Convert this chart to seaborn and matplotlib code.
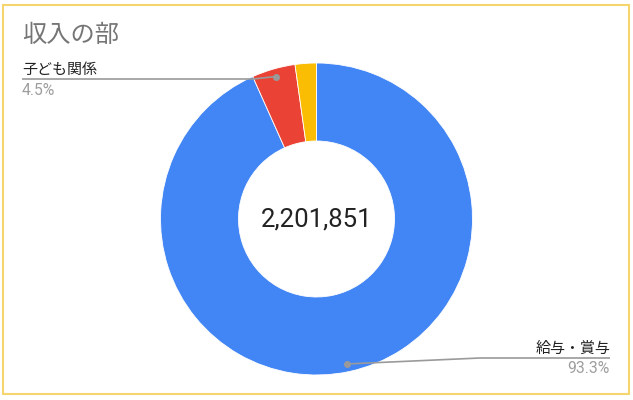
import numpy as np
import matplotlib
matplotlib.use("Agg")
import matplotlib.pyplot as plt
from matplotlib.patches import Rectangle
import seaborn as sns

sns.set_theme(style="white")
plt.rcParams["font.family"] = ["Noto Sans CJK JP", "DejaVu Sans"]

TITLE = "収入の部"
CATEGORIES = ["給与・賞与", "子ども関係", "その他"]
AMOUNTS = [2054327, 99083, 48441]
COLORS = ["#4285F4", "#EA4335", "#FBBC04"]
# which slices get an outside label, and where the label sits
LABELLED = {0: "right", 1: "left"}

W, H = 633, 400
fig = plt.figure(figsize=(W / 100, H / 100), dpi=100)
fig.patch.set_facecolor("white")

# donut centre (316.5, 219), outer radius 156 px
cx, cy, r = 316.5, 219, 156
ax = fig.add_axes([(cx - r) / W, (H - cy - r) / H, 2 * r / W, 2 * r / H])
wedges, _ = ax.pie(AMOUNTS, colors=COLORS, startangle=90, counterclock=False,
                   radius=1, wedgeprops=dict(width=0.5, edgecolor="white", linewidth=0.6))
ax.set_xlim(-1, 1)
ax.set_ylim(-1, 1)
ax.set_aspect("equal")
ax.axis("off")

# overlay axes in pixel coordinates (y downwards)
ov = fig.add_axes([0, 0, 1, 1], facecolor="none")
ov.set_xlim(0, W)
ov.set_ylim(H, 0)
ov.axis("off")

ov.add_patch(Rectangle((2.5, 5), 626.5, 389, fill=False, edgecolor="#F7D56E", linewidth=1.5))
ov.text(22, 35, TITLE, fontsize=17.5, color="#757575", va="center", ha="left")

total = sum(AMOUNTS)
ov.text(cx, cy, f"{total:,}", fontsize=18.5, color="#222222", ha="center", va="center",
        family=["Roboto", "DejaVu Sans"])

to_ov = ax.transData + ov.transData.inverted()
line_kw = dict(color="#9a9a9a", linewidth=1.2, solid_capstyle="butt")
num_font = ["Roboto", "DejaVu Sans"]
for i, side in LABELLED.items():
    w = wedges[i]
    mid = np.deg2rad((w.theta1 + w.theta2) / 2)
    dx, dy = to_ov.transform((0.95 * np.cos(mid), 0.95 * np.sin(mid)))
    pct = f"{AMOUNTS[i] / total * 100:.1f}%"
    if side == "left":
        ov.plot([dx, 253, 22], [dy, 79, 79], **line_kw)
        ov.text(22, 77, CATEGORIES[i], fontsize=10.8, color="#222222", ha="left", va="bottom")
        ov.text(22, 83, pct, fontsize=11.3, color="#9E9E9E", ha="left", va="top", family=num_font)
    else:
        ov.plot([dx, 480, 610], [dy, 358, 358], **line_kw)
        ov.text(610, 356, CATEGORIES[i], fontsize=10.8, color="#222222", ha="right", va="bottom")
        ov.text(610, 361, pct, fontsize=11.3, color="#9E9E9E", ha="right", va="top", family=num_font)
    ov.plot([dx], [dy], "o", color="#9a9a9a", markersize=4)

fig.savefig("out.png", dpi=100)
